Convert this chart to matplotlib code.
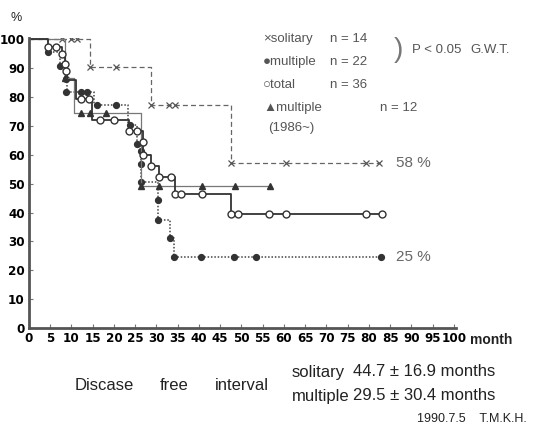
import matplotlib.pyplot as plt

W, H = 533, 428

# solitary (x, dashed)
sol_t = [0, 14.3, 28.6, 47.5, 82.4]
sol_s = [100, 90.3, 77.3, 57.1, 57.1]
sol_mt = [7.7, 10, 11.2, 14.3, 20.5, 28.6, 33, 34.4, 47.5, 60.5, 79.2, 82.4]
sol_ms = [100, 100, 100, 90.3, 90.3, 77.3, 77.3, 77.3, 57.1, 57.1, 57.1, 57.1]

# multiple (filled circle, dotted)
mul_t = [0, 4.4, 7.3, 8.6, 9.0, 15.2, 23.3, 25.4, 26.4, 30.3, 33.3, 34.2, 82.8]
mul_s = [100, 95.5, 90.9, 86.4, 81.8, 77.3, 70.5, 63.6, 50.5, 37.4, 31.2, 24.7, 24.7]
mul_mt = [4.4, 7.3, 8.6, 8.6, 12.3, 13.7, 15.9, 20.5, 23.7, 25.4, 26.4, 26.4, 26.4,
          30.3, 30.3, 33.3, 34.2, 40.4, 48.2, 53.5, 82.8]
mul_ms = [95.5, 90.9, 86.4, 81.8, 81.8, 81.8, 77.3, 77.3, 70.5, 63.6, 61.4, 56.8, 50.5,
          44.3, 37.4, 31.2, 24.7, 24.7, 24.7, 24.7, 24.7]

# total (open circle, solid)
tot_t = [0, 4.4, 7.7, 8.4, 9.0, 11.0, 14.8, 23.5, 26.8, 28.7, 30.5, 34.4, 47.6, 83]
tot_s = [100, 97.4, 94.9, 91.6, 86.0, 79.3, 72.1, 68.4, 59.8, 56.3, 52.3, 46.5, 39.6, 39.6]
tot_mt = [4.4, 6.3, 7.7, 8.4, 8.6, 12.3, 14.1, 16.6, 20.1, 23.5, 25.5, 26.8, 26.8, 28.7,
          30.5, 33.4, 34.4, 35.8, 40.7, 47.6, 49.2, 56.6, 60.5, 79.2, 83]
tot_ms = [97.4, 97.4, 94.9, 91.6, 89.1, 79.3, 79.3, 72.1, 72.1, 68.4, 68.4, 64.6, 59.8, 56.3,
          52.3, 52.3, 46.5, 46.5, 46.5, 39.6, 39.6, 39.6, 39.6, 39.6, 39.6]

# multiple 1986~ (triangle)
m86_t = [0, 8.4, 10.5, 26.4, 56.7]
m86_s = [100, 86.8, 74.6, 49.3, 49.3]
m86_mt = [8.4, 12.2, 14.4, 18.2, 26.4, 30.5, 40.7, 48.6, 56.7]
m86_ms = [86.8, 74.6, 74.6, 74.6, 49.3, 49.3, 49.3, 49.3, 49.3]

xticks = list(range(0, 101, 5))
yticks = list(range(0, 101, 10))

plt.rcParams['font.family'] = ['Liberation Sans', 'DejaVu Sans']

fig = plt.figure(figsize=(W / 100, H / 100), dpi=100)
ax = fig.add_axes([29 / W, 1 - 328 / H, 427 / W, 290 / H])

ax.step(sol_t, sol_s, where='post', color='#666666', lw=0.9, ls=(0, (4, 2.5)))
ax.plot(sol_mt, sol_ms, 'x', color='#555555', ms=4, mew=0.9)

ax.step(mul_t, mul_s, where='post', color='#444444', lw=1.1, ls=(0, (1, 1.2)))
ax.plot(mul_mt, mul_ms, 'o', color='#333333', ms=4.2)

ax.step(m86_t, m86_s, where='post', color='#777777', lw=0.9)
ax.plot(m86_mt, m86_ms, '^', color='#333333', ms=4.2)

ax.step(tot_t, tot_s, where='post', color='#333333', lw=1.3)
ax.plot(tot_mt, tot_ms, 'o', mfc='white', mec='#333333', ms=5, mew=1)

ax.set_xlim(0, 100.5)
ax.set_ylim(0, 100.5)
ax.set_xticks(xticks)
ax.set_yticks(yticks)
ax.tick_params(direction='in', length=3, width=0.8, color='#777777', pad=3)
for lab in ax.get_xticklabels() + ax.get_yticklabels():
    lab.set_family(['DejaVu Sans'])
    lab.set_stretch('condensed')
    lab.set_fontweight('bold')
    lab.set_fontsize(9.5)
for side in ['top', 'right']:
    ax.spines[side].set_visible(False)
for side in ['left', 'bottom']:
    ax.spines[side].set_linewidth(2)
    ax.spines[side].set_color('#555555')


def txt(x, y, s, **kw):
    kw.setdefault('fontsize', 9.5)
    kw.setdefault('color', '#555555')
    kw.setdefault('va', 'center')
    fig.text(x / W, 1 - y / H, s, **kw)


txt(10, 18, '%', fontsize=9, color='#222222')
txt(470, 340, 'month', fontsize=10, color='#222222', fontweight='bold')

txt(263, 39, '×solitary')
txt(263, 62, '●multiple')
txt(263, 85, '○total')
txt(263, 108, '▲multiple')
txt(268, 128, '(1986~)')
txt(330, 39, 'n = 14')
txt(330, 62, 'n = 22')
txt(330, 85, 'n = 36')
txt(380, 108, 'n = 12')
txt(394, 50, ')', fontsize=20, color='#777777', fontweight='light')
txt(412, 50, 'P < 0.05')
txt(470, 50, 'G.W.T.')

txt(396, 163, '58 %', fontsize=11, color='#666666')
txt(396, 257, '25 %', fontsize=11, color='#666666')

bk = '#222222'
txt(75, 385, 'Discase', fontsize=12, color=bk)
txt(160, 385, 'free', fontsize=12, color=bk)
txt(215, 385, 'interval', fontsize=12, color=bk)
txt(292, 372, 'solitary', fontsize=12, color=bk)
txt(353, 372, '44.7 ± 16.9 months', fontsize=12, color=bk)
txt(292, 396, 'multiple', fontsize=12, color=bk)
txt(353, 396, '29.5 ± 30.4 months', fontsize=12, color=bk)
txt(417, 419, '1990.7.5    T.M.K.H.', fontsize=9, color=bk)

fig.savefig('out.png', dpi=100, facecolor='white')
